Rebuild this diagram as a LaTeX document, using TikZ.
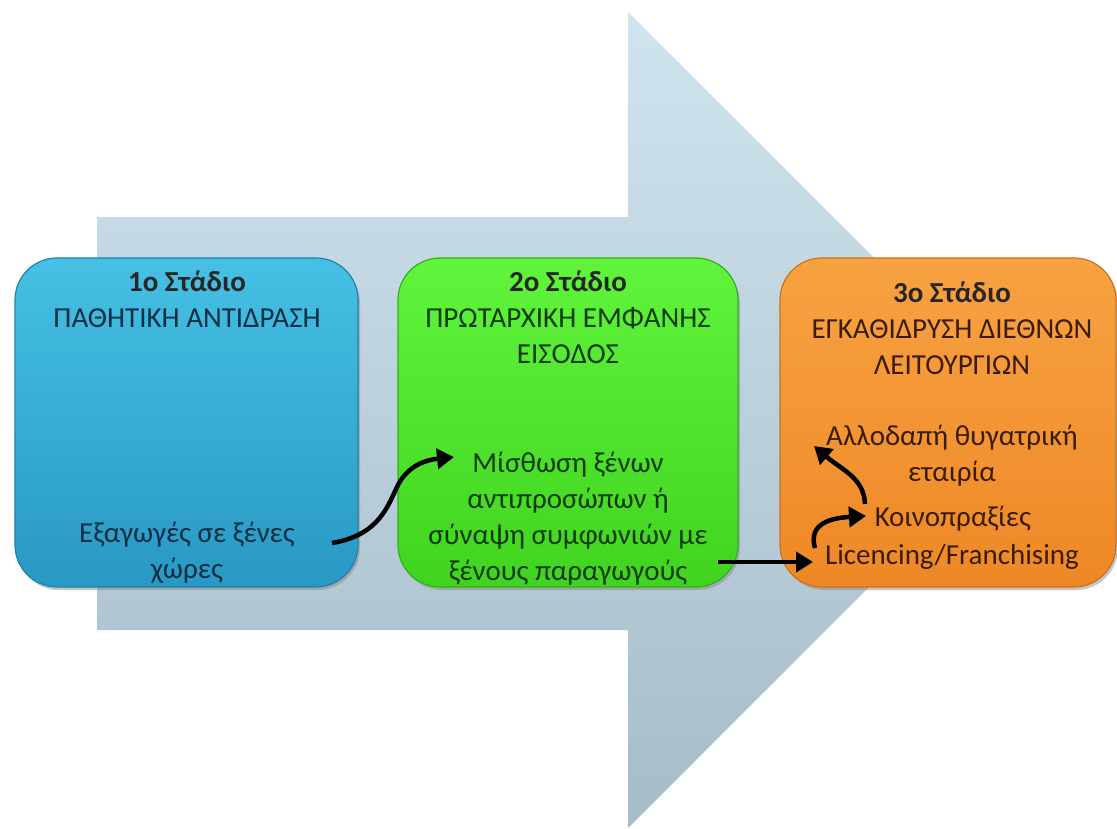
\documentclass[tikz,border=0pt]{standalone}
\usepackage{fontspec}
\setmainfont{Carlito}
\usetikzlibrary{arrows.meta,shadows}
\definecolor{arrtop}{RGB}{208,228,239}
\definecolor{arrbot}{RGB}{166,188,200}
\definecolor{bluetop}{RGB}{70,192,228}
\definecolor{bluebot}{RGB}{40,152,196}
\definecolor{blueedge}{RGB}{36,130,170}
\definecolor{greentop}{RGB}{96,244,60}
\definecolor{greenbot}{RGB}{64,212,32}
\definecolor{greenedge}{RGB}{52,176,28}
\definecolor{orangetop}{RGB}{248,162,66}
\definecolor{orangebot}{RGB}{238,136,38}
\definecolor{orangeedge}{RGB}{206,112,28}
\definecolor{bluetext}{RGB}{12,46,66}
\definecolor{greentext}{RGB}{14,58,14}
\definecolor{orangetext}{RGB}{58,28,2}
\tikzset{
  stagebox/.style={rounded corners=42pt, minimum width=#1, minimum height=329pt, inner sep=0pt, line width=1.2pt,
    drop shadow={shadow xshift=2pt, shadow yshift=-3pt, fill=black!45, opacity=0.5}},
  txt/.style={font=\fontsize{29}{36}\selectfont, align=center, inner sep=0pt, anchor=base},
  conn/.style={line width=4.5pt, -{Triangle[length=17pt,width=20pt]}},
}
\begin{document}
\begin{tikzpicture}[x=1pt,y=-1pt]
\useasboundingbox (0,0) rectangle (1117,829);
% big arrow
\path[top color=arrtop, bottom color=arrbot]
  (97,217) -- (628,217) -- (628,12) -- (1036,420) -- (628,828) -- (628,630) -- (97,630) -- cycle;
% boxes
\node[stagebox=343pt, draw=blueedge, top color=bluetop, bottom color=bluebot] (b1) at (186.5,422.5) {};
\node[stagebox=340pt, draw=greenedge, top color=greentop, bottom color=greenbot] (b2) at (568,422.5) {};
\node[stagebox=336pt, draw=orangeedge, top color=orangetop, bottom color=orangebot] (b3) at (948,422.5) {};
% texts box 1 (base anchor = last line baseline)
\node[txt, text=bluetext] (h1) at (187,327) {\textbf{\color{black!85}1ο Στάδιο}\\ΠΑΘΗΤΙΚΗ ΑΝΤΙΔΡΑΣΗ};
\node[txt, text=bluetext] (d1) at (187,578) {Εξαγωγές σε ξένες\\χώρες};
% texts box 2
\node[txt, text=greentext] (h2) at (568,363) {\textbf{\color{black!85}2ο Στάδιο}\\ΠΡΩΤΑΡΧΙΚΗ ΕΜΦΑΝΗΣ\\ΕΙΣΟΔΟΣ};
\node[txt, text=greentext] (d2) at (568,580) {Μίσθωση ξένων\\αντιπροσώπων ή\\σύναψη συμφωνιών με\\ξένους παραγωγούς};
% texts box 3
\node[txt, text=orangetext] (h3) at (952,374) {\textbf{\color{black!85}3ο Στάδιο}\\ΕΓΚΑΘΙΔΡΥΣΗ ΔΙΕΘΝΩΝ\\ΛΕΙΤΟΥΡΓΙΩΝ};
\node[txt, text=orangetext] (d3a) at (952,481) {Αλλοδαπή θυγατρική\\εταιρία};
\node[txt, text=orangetext] (d3b) at (953,526) {Κοινοπραξίες};
\node[txt, text=orangetext] (d3c) at (952,564) {Licencing/Franchising};
% connector end points
\coordinate (a1s) at (332,543);
\coordinate (a1e) at (454,457);
\coordinate (a2s) at (718,562);
\coordinate (a2e) at (813,562);
\coordinate (a3s) at (815,548);
\coordinate (a3e) at (866,516);
\coordinate (a4s) at (865,504);
\coordinate (a4e) at (814,446);
% connectors
\draw[conn] (a1s) .. controls (380,535) and (388,505) .. (398,485) .. controls (408,466) and (425,460) .. (a1e);
\draw[conn] (a2s) -- (a2e);
\draw[conn] (a3s) .. controls (808,524) and (830,518) .. (a3e);
\draw[conn] (a4s) .. controls (864,478) and (842,470) .. (a4e);
\end{tikzpicture}
\end{document}
